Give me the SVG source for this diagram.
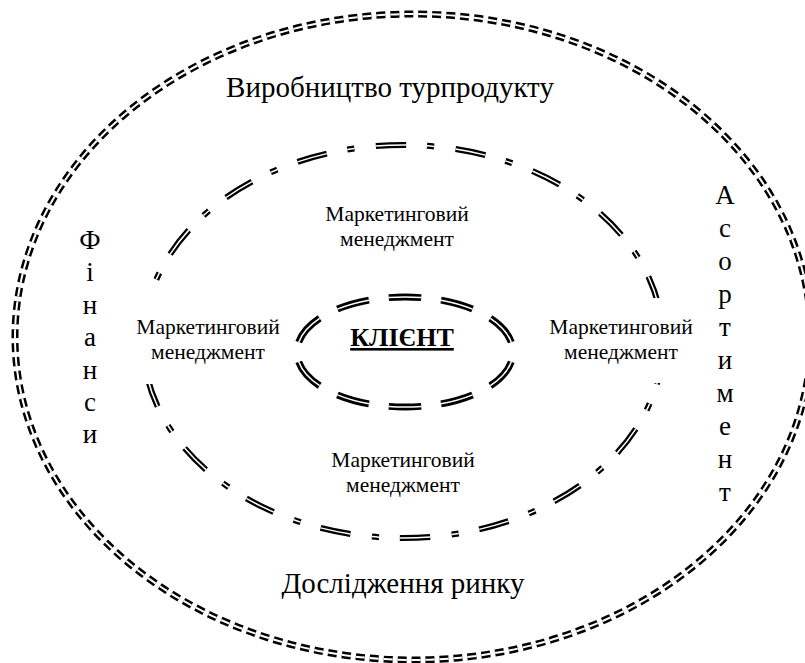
<svg xmlns="http://www.w3.org/2000/svg" width="805" height="663" viewBox="0 0 805 663">
<style>
text{font-family:"Liberation Serif","Times New Roman",serif;fill:#000;text-anchor:middle}
.big{font-size:29px}
.lab{font-size:21.5px}
.vert{font-size:27px}
.blk{fill:none;stroke:#000}
.wht{fill:none;stroke:#fff}
.outer{stroke-dasharray:9 5}
.mid{stroke-dasharray:38 26 9 27;stroke-dashoffset:84}
.inn{stroke-dasharray:6.2 3.8;stroke-dashoffset:8.1}
.box{fill:#fff;stroke:none}
</style>
<rect width="805" height="663" fill="#fff"/>
<g id="outer-ring">
<ellipse class="blk outer" cx="413" cy="337" rx="398" ry="323" stroke-width="7"/>
<ellipse class="wht outer" cx="413" cy="337" rx="398" ry="323" stroke-width="2"/>
</g>
<g id="middle-ring">
<ellipse class="blk mid" cx="403" cy="341.5" rx="260" ry="196.5" pathLength="1800" stroke-width="6"/>
<ellipse class="wht mid" cx="403" cy="341.5" rx="260" ry="196.5" pathLength="1800" stroke-width="1.5"/>
</g>
<g id="inner-ring">
<ellipse class="blk inn" cx="405" cy="352" rx="108" ry="55" pathLength="100" stroke-width="7"/>
<ellipse class="wht inn" cx="405" cy="352" rx="108" ry="55" pathLength="100" stroke-width="1.5"/>
</g>
<g id="client">
<text x="402" y="346" font-size="26" font-weight="bold" text-decoration="underline">КЛІЄНТ</text>
</g>
<g id="production">
<text class="big" x="390" y="97">Виробництво турпродукту</text>
</g>
<g id="research">
<text class="big" x="403" y="593">Дослідження ринку</text>
</g>
<g id="finance">
<text class="vert" x="90" y="249">Ф</text>
<text class="vert" x="90" y="281">і</text>
<text class="vert" x="90" y="314">н</text>
<text class="vert" x="90" y="346">а</text>
<text class="vert" x="90" y="379">н</text>
<text class="vert" x="90" y="411">с</text>
<text class="vert" x="90" y="443">и</text>
</g>
<g id="assortment">
<text class="vert" x="725" y="204">А</text>
<text class="vert" x="725" y="237">с</text>
<text class="vert" x="725" y="270">о</text>
<text class="vert" x="725" y="303">р</text>
<text class="vert" x="725" y="336">т</text>
<text class="vert" x="725" y="369">и</text>
<text class="vert" x="725" y="402">м</text>
<text class="vert" x="725" y="435">е</text>
<text class="vert" x="725" y="468">н</text>
<text class="vert" x="725" y="501">т</text>
</g>
<g id="mm-top">
<text class="lab" x="397" y="221">Маркетинговий</text>
<text class="lab" x="397" y="246">менеджмент</text>
</g>
<g id="mm-left">
<rect class="box" x="130" y="290" width="160" height="94"/>
<text class="lab" x="208" y="334">Маркетинговий</text>
<text class="lab" x="208" y="359">менеджмент</text>
</g>
<g id="mm-right">
<rect class="box" x="545" y="298" width="152" height="85"/>
<text class="lab" x="621" y="334">Маркетинговий</text>
<text class="lab" x="621" y="359">менеджмент</text>
</g>
<g id="mm-bottom">
<text class="lab" x="403" y="467">Маркетинговий</text>
<text class="lab" x="403" y="492">менеджмент</text>
</g>
</svg>
